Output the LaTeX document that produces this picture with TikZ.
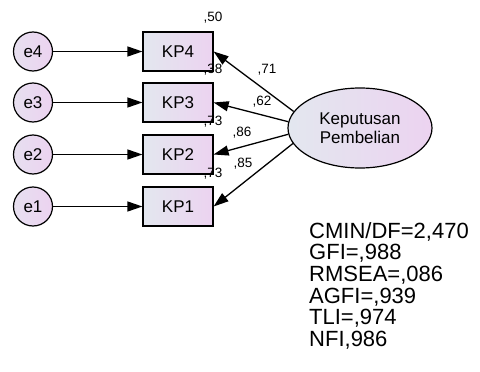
\documentclass[tikz,border=0pt]{standalone}
\usepackage{fontspec}
\setmainfont{Liberation Sans}
\usetikzlibrary{arrows.meta,shapes.geometric}
\definecolor{shL}{HTML}{E3E7EF}
\definecolor{shR}{HTML}{ECD3F0}
\tikzset{
  errc/.style={circle,draw,line width=1.2pt,minimum size=39pt,inner sep=0pt,left color=shL!60!shR,right color=shR,font=\fontsize{17}{17}\selectfont},
  obsbox/.style={rectangle,draw,line width=1.2pt,minimum width=70pt,minimum height=39pt,inner sep=0pt,left color=shL,right color=shR,font=\fontsize{17}{17}\selectfont},
  latent/.style={ellipse,draw,line width=1.2pt,minimum width=144pt,minimum height=80pt,inner sep=0pt,left color=shL,right color=shR,font=\fontsize{17}{19}\selectfont,align=center},
  conn/.style={line width=1.3pt,-{Triangle[length=15pt,width=10pt]}},
  small/.style={inner sep=0pt,font=\fontsize{13.5}{13.5}\selectfont},
  fit/.style={inner sep=0pt,anchor=west,font=\fontsize{22}{22}\selectfont}
}
\begin{document}
\begin{tikzpicture}[x=1pt,y=-1pt]
\useasboundingbox[fill=white] (0,0) rectangle (480,372);
\node[errc] (e4) at (33,51.5) {e4};
\node[errc] (e3) at (33,102.5) {e3};
\node[errc] (e2) at (33,154.5) {e2};
\node[errc] (e1) at (33,206.5) {e1};
\node[obsbox] (KP4) at (178,51.5) {KP4};
\node[obsbox] (KP3) at (178,102.5) {KP3};
\node[obsbox] (KP2) at (178,154.5) {KP2};
\node[obsbox] (KP1) at (178,206.5) {KP1};
\node[latent] (KPB) at (360,128) {Keputusan\\Pembelian};
\draw[conn] (e4) -- (KP4);
\draw[conn] (e3) -- (KP3);
\draw[conn] (e2) -- (KP2);
\draw[conn] (e1) -- (KP1);
\draw[conn] (KPB.166) -- (KP4.east);
\draw[conn] (KPB.175) -- (KP3.east);
\draw[conn] (KPB.185) -- (KP2.east);
\draw[conn] (KPB.193) -- (KP1.east);
\node[small] (r4) at (213,18) {,50};
\node[small] (r3) at (213,70) {,38};
\node[small] (r2) at (213,122) {,73};
\node[small] (r1) at (213,174) {,73};
\node[small] (l4) at (267,70) {,71};
\node[small] (l3) at (262,102) {,62};
\node[small] (l2) at (242,133) {,86};
\node[small] (l1) at (243,164) {,85};
\node[fit] (f1) at (309,232) {CMIN/DF=2,470};
\node[fit] (f2) at (309,253.5) {GFI=,988};
\node[fit] (f3) at (309,275) {RMSEA=,086};
\node[fit] (f4) at (309,297) {AGFI=,939};
\node[fit] (f5) at (309,318.5) {TLI=,974};
\node[fit] (f6) at (309,340) {NFI,986};
\end{tikzpicture}
\end{document}
